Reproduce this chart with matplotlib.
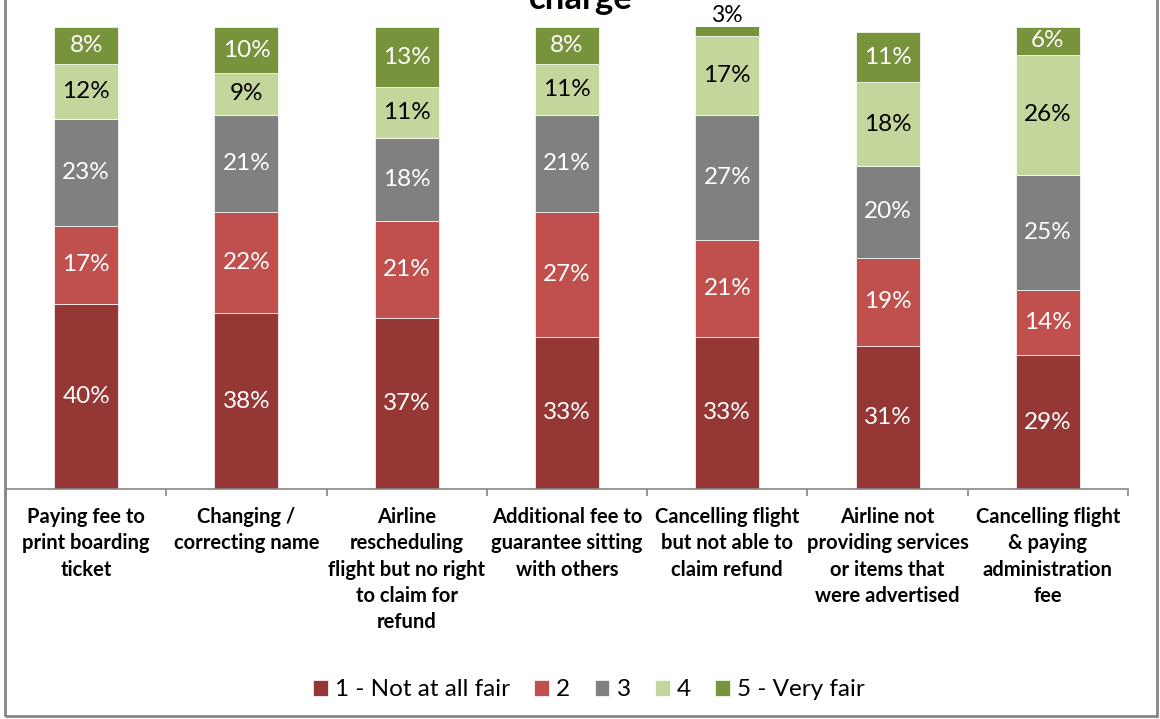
import matplotlib.pyplot as plt
import numpy as np
from matplotlib.patches import Rectangle

plt.rcParams['font.family'] = ['Lato', 'DejaVu Sans']

categories = [
    "Paying fee to\nprint boarding\nticket",
    "Changing /\ncorrecting name",
    "Airline\nrescheduling\nflight but no right\nto claim for\nrefund",
    "Additional fee to\nguarantee sitting\nwith others",
    "Cancelling flight\nbut not able to\nclaim refund",
    "Airline not\nproviding services\nor items that\nwere advertised",
    "Cancelling flight\n& paying\nadministration\nfee",
]
series_names = ["1 - Not at all fair", "2", "3", "4", "5 - Very fair"]
not_fair = [40, 38, 37, 33, 33, 31, 29]
fair_2 = [17, 22, 21, 27, 21, 19, 14]
fair_3 = [23, 21, 18, 21, 27, 20, 25]
fair_4 = [12, 9, 11, 11, 17, 18, 26]
very_fair = [8, 10, 13, 8, 3, 11, 6]

colors = ["#953735", "#C0504D", "#808080", "#C3D69B", "#77933C"]
text_colors = ["white", "white", "white", "black", "white"]

fig = plt.figure(figsize=(11.6, 7.19), dpi=100)
W, H = 1160, 719
ax = fig.add_axes([6 / W, (H - 489) / H, (1128 - 6) / W, (489 - 27) / H])

x = np.arange(len(categories))
bottom = np.zeros(len(categories))
for vals, name, col, tcol in zip([not_fair, fair_2, fair_3, fair_4, very_fair],
                                 series_names, colors, text_colors):
    vals = np.array(vals, dtype=float)
    ax.bar(x, vals, width=0.4, bottom=bottom, color=col, label=name,
           edgecolor='white', linewidth=0.5)
    for xi, b, v in zip(x, bottom, vals):
        if v < 5:
            # too thin to hold its label: put it above the bar
            ax.text(xi, 100.2, f"{v:.0f}%", ha='center', va='bottom',
                    fontsize=16.5, color='black', clip_on=False)
        else:
            ax.text(xi, b + v / 2, f"{v:.0f}%", ha='center', va='center',
                    fontsize=17.5, color=tcol)
    bottom += vals

ax.set_xlim(-0.5, len(categories) - 0.5)
ax.set_ylim(0, 100)
ax.set_yticks([])
for side in ['left', 'right', 'top']:
    ax.spines[side].set_visible(False)
ax.spines['bottom'].set_color('#868686')
ax.spines['bottom'].set_linewidth(1.2)

ax.set_xticks(x)
ax.set_xticklabels(categories, fontsize=14.5, fontweight='bold',
                   linespacing=1.39, va='top')
ax.tick_params(axis='x', which='major', length=0, pad=13)
ax.set_xticks(np.arange(len(categories) + 1) - 0.5, minor=True)
ax.tick_params(axis='x', which='minor', length=5, width=1.2, color='#868686')

fig.text(581 / W, 1 - 9 / H, "charge", ha='center', va='baseline',
         fontsize=25, fontweight='bold')

fig.legend(loc='center', bbox_to_anchor=(589 / W, 1 - 690 / H), ncol=5,
           frameon=False, fontsize=17.5, handlelength=0.6, handleheight=0.6,
           handletextpad=0.3, columnspacing=1.0)

fig.patches.append(Rectangle((5 / W, 3 / H), (1157 - 5) / W, 1.2,
                             transform=fig.transFigure, fill=False,
                             edgecolor='#868686', linewidth=2))

fig.savefig('out.png', dpi=100)
